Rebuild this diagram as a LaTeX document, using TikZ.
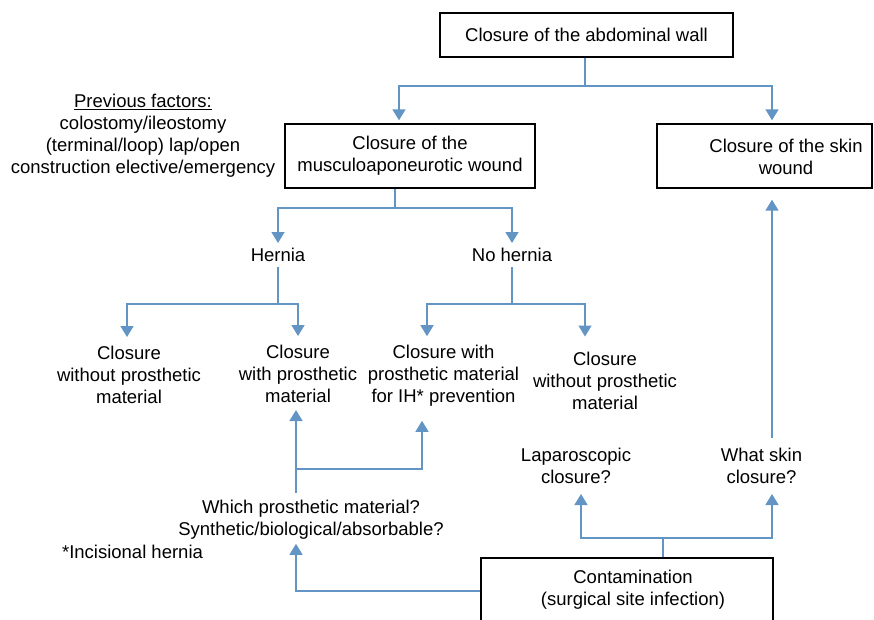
\documentclass[tikz,border=0pt]{standalone}
\usepackage{fontspec}
\setmainfont{Liberation Sans}
\usetikzlibrary{arrows.meta}
\definecolor{conncol}{RGB}{98,148,196}
\tikzset{
  box/.style={draw=black, line width=1.4pt, inner sep=0pt, align=center, font=\fontsize{18.5}{22}\selectfont},
  txt/.style={inner sep=0pt, align=center, font=\fontsize{18.5}{22}\selectfont},
  cline/.style={draw=conncol, line width=1.5pt},
  arr/.style={cline, -{Triangle[width=13pt,length=11pt]}},
}
\begin{document}
\begin{tikzpicture}[x=1pt,y=-1pt]
\useasboundingbox (0,0) rectangle (874,619);
\clip (0,0) rectangle (874,619);
\fill[white] (0,0) rectangle (874,619);

% nodes
\node[box, minimum width=293pt, minimum height=44pt] (top) at (586.5,35) {Closure of the abdominal wall};
\node[box, minimum width=250pt, minimum height=64pt] (musc) at (410,156) {Closure of the\\musculoaponeurotic wound};
\node[box, minimum width=215pt, minimum height=64pt] (skin) at (764.5,156) {};
\node[txt] (skint) at (786,156.5) {Closure of the skin\\wound};
\node[txt] (prev) at (143,136) {\underline{Previous factors:}\\colostomy/ileostomy\\(terminal/loop) lap/open\\construction elective/emergency};
\node[txt] (hernia) at (278,255) {Hernia};
\node[txt] (nohernia) at (512,255) {No hernia};
\node[txt] (cwo1) at (129,375) {Closure\\without prosthetic\\material};
\node[txt] (cw1) at (298,374) {Closure\\with prosthetic\\material};
\node[txt] (ih) at (443.5,376) {Closure with\\prosthetic material\\for IH* prevention};
\node[txt] (cwo2) at (605,380.5) {Closure\\without prosthetic\\material};
\node[txt] (which) at (311,520) {Which prosthetic material?\\Synthetic/biological/absorbable?};
\node[txt] (foot) at (132.5,552) {*Incisional hernia};
\node[txt] (lap) at (576,466) {Laparoscopic\\closure?};
\node[txt] (ws) at (761.5,466) {What skin\\closure?};
\node[box, minimum width=292pt, minimum height=100pt] (cont) at (627,608) {};
\node[txt] (contt) at (633,590) {Contamination\\(surgical site infection)};

% junctions
\coordinate (j1) at (585,86);
\coordinate (j2) at (395,208);
\coordinate (j3) at (278,304);
\coordinate (j3b) at (512,304);
\coordinate (j4) at (296,469);
\coordinate (j5) at (663,538);
\coordinate (jc) at (481,591);

% top -> musc / skin
\draw[cline] (j1 |- top.south) -- (j1);
\draw[arr, shorten >=3pt] (j1) -| ([xshift=-11pt]musc.north);
\draw[arr, shorten >=3pt] (j1) -| ([xshift=7.5pt]skin.north);

% musc -> hernia / no hernia
\draw[cline] (j2 |- musc.south) -- (j2);
\draw[arr, shorten >=5pt] (j2) -| (hernia.north);
\draw[arr, shorten >=5pt] (j2) -| (nohernia.north);

% hernia -> children
\draw[cline, shorten <=5pt] (hernia.south) -- (j3);
\draw[arr, shorten >=9pt] (j3) -| ([xshift=-2pt]cwo1.north);
\draw[arr, shorten >=9pt] (j3) -| (cw1.north);

% no hernia -> children
\draw[cline, shorten <=5pt] (nohernia.south) -- (j3b);
\draw[arr, shorten >=9pt] (j3b) -| ([xshift=-16.5pt]ih.north);
\draw[arr, shorten >=15pt] (j3b) -| ([xshift=-20pt]cwo2.north);

% which -> closure with / IH
\draw[arr, shorten <=7pt, shorten >=7pt] (j4 |- which.north) -- (j4 |- cw1.south);
\draw[arr, shorten >=14pt] (j4) -| ([xshift=-21.5pt]ih.south);

% contamination -> which
\draw[arr, shorten >=4pt] (cont.west |- jc) -| (j4 |- which.south);

% contamination -> laparoscopic / what skin
\draw[cline] (j5 |- cont.north) -- (j5);
\draw[arr, shorten >=10pt] (j5) -| ([xshift=5pt]lap.south);
\draw[arr, shorten >=10pt] (j5) -| ([xshift=10.5pt]ws.south);

% what skin -> skin box
\draw[arr, shorten <=10pt, shorten >=11pt] ([xshift=10.5pt]ws.north) -- ([xshift=10.5pt]ws.north |- skin.south);
\end{tikzpicture}
\end{document}
